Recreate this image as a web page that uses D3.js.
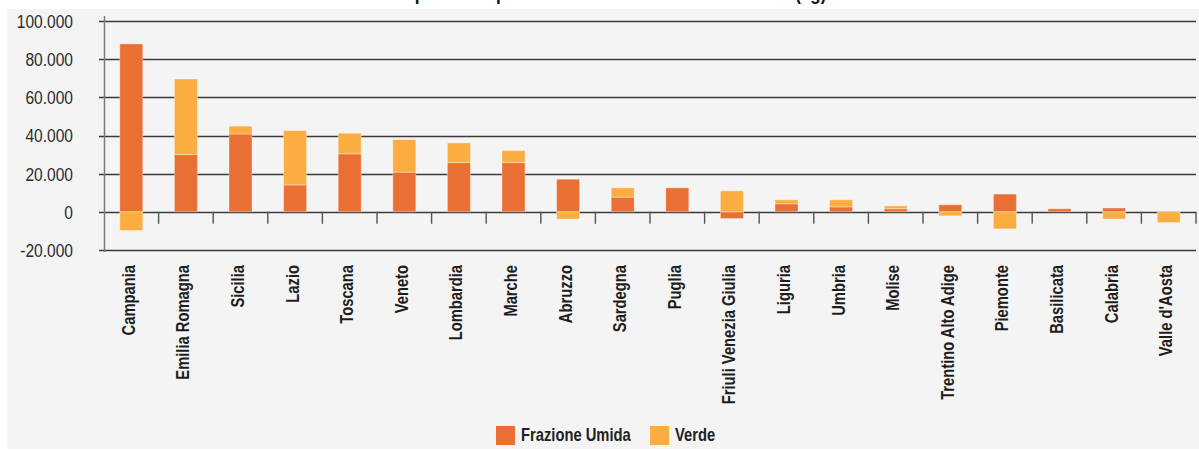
<!DOCTYPE html>
<html>
<head>
<meta charset="utf-8">
<script src="https://cdn.jsdelivr.net/npm/d3@7"></script>
<style>
  html, body { margin: 0; padding: 0; background: #ffffff; }
  svg { display: block; }
  text { font-family: "Liberation Sans", Arial, Helvetica, sans-serif; }
</style>
</head>
<body>
<div id="chart"></div>
<script>
// Regions, sorted as in the report
const regions = ["Campania", "Emilia Romagna", "Sicilia", "Lazio", "Toscana", "Veneto",
  "Lombardia", "Marche", "Abruzzo", "Sardegna", "Puglia", "Friuli Venezia Giulia",
  "Liguria", "Umbria", "Molise", "Trentino Alto Adige", "Piemonte", "Basilicata",
  "Calabria", "Valle d'Aosta"];

// Balance in kg for each fraction (negative = net outflow)
const frazioneUmida = [88000, 30000, 40800, 14100, 30400, 20800, 25800, 25800, 17100, 7700,
  12600, -3500, 4200, 2600, 1600, 3700, 9300, 1600, 2000, 0];
const verde = [-9800, 39600, 4100, 28500, 10800, 17100, 10300, 6300, -3800, 4900,
  0, 11000, 2100, 3700, 1500, -2100, -8900, 0, -3800, -5600];

const seriesNames = ["Frazione Umida", "Verde"];
const yTicks = [-20000, 0, 20000, 40000, 60000, 80000, 100000];

const W = 1199, H = 450;
const NARROW = 0.82; // horizontal squeeze giving a condensed face
const colors = { "Frazione Umida": "#E96F35", "Verde": "#FBAD41" };

const svg = d3.select("#chart").append("svg").attr("width", W).attr("height", H);

// light grey panel
svg.append("rect").attr("x", 7).attr("y", 9).attr("width", W - 7).attr("height", 440)
  .attr("fill", "#f4f4f4");

// title (runs off the top edge)
svg.append("text")
  .attr("transform", `translate(395,-0.5) scale(0.85,1)`)
  .attr("font-weight", "bold").attr("font-size", 20)
  .attr("fill", "#111")
  .text("Import ed export della frazione umida e del verde (kg)");

const x = d3.scaleBand().domain(regions).range([104, 1196]).padding(0);
const y = d3.scaleLinear().domain([-20000, 100000]).range([250, 21]);

const locale = d3.formatLocale({ decimal: ",", thousands: ".", grouping: [3], currency: ["", "€"], minus: "-" });
const fmt = locale.format(",d");

// horizontal grid lines (extend left as tick marks)
svg.append("g").selectAll("line").data(yTicks).join("line")
  .attr("x1", 99).attr("x2", 1196)
  .attr("y1", d => Math.round(y(d)) + 0.5).attr("y2", d => Math.round(y(d)) + 0.5)
  .attr("stroke", "#3a3a3a").attr("stroke-width", 1.3);

// y tick labels
svg.append("g").selectAll("text").data(yTicks).join("text")
  .attr("transform", d => `translate(73,${y(d)}) scale(${NARROW},1)`)
  .attr("dy", "0.36em")
  .attr("text-anchor", "end").attr("font-size", 19).attr("fill", "#2b2b2b")
  .text(d => fmt(d));

// y axis line
svg.append("line").attr("x1", 104.5).attr("x2", 104.5).attr("y1", 16).attr("y2", 252)
  .attr("stroke", "#7a7a7a").attr("stroke-width", 1.5);

// category separators under the zero line
const bounds = regions.map(r => x(r) + x.bandwidth());
svg.append("g").selectAll("line").data(bounds).join("line")
  .attr("x1", d => d).attr("x2", d => d)
  .attr("y1", y(0)).attr("y2", y(0) + 12)
  .attr("stroke", "#555").attr("stroke-width", 1.4);

// stacked bars with diverging offset
const rows = regions.map((r, i) => ({ region: r, "Frazione Umida": frazioneUmida[i], "Verde": verde[i] }));
const stack = d3.stack().keys(seriesNames).offset(d3.stackOffsetDiverging);
const layers = stack(rows);
const barW = 23;

svg.append("g").selectAll("g").data(layers).join("g")
  .attr("fill", d => colors[d.key])
  .selectAll("rect").data(d => d).join("rect")
  .attr("x", d => x(d.data.region) + x.bandwidth() / 2 - barW / 2)
  .attr("width", barW)
  .attr("y", d => y(Math.max(d[0], d[1])))
  .attr("height", d => Math.abs(y(d[0]) - y(d[1])))
  .attr("stroke", "rgba(255,255,255,0.35)").attr("stroke-width", 1);

// category labels
svg.append("g").selectAll("text").data(regions).join("text")
  .attr("transform", d => `translate(${x(d) + x.bandwidth() / 2 + 3.5},265) rotate(-90) scale(${NARROW},1)`)
  .attr("text-anchor", "end")
  .attr("font-size", 18).attr("font-weight", "bold").attr("fill", "#1e1e1e")
  .text(d => d);

// legend
const legend = svg.append("g");
const legendItems = [{ name: "Frazione Umida", x: 496 }, { name: "Verde", x: 650 }];
legendItems.forEach(it => {
  legend.append("rect").attr("x", it.x).attr("y", 426).attr("width", 19).attr("height", 19)
    .attr("fill", colors[it.name]);
  legend.append("text")
    .attr("transform", `translate(${it.x + 25},441) scale(${NARROW},1)`)
    .attr("font-size", 18).attr("font-weight", "bold").attr("fill", "#222")
    .text(it.name);
});
</script>
</body>
</html>
